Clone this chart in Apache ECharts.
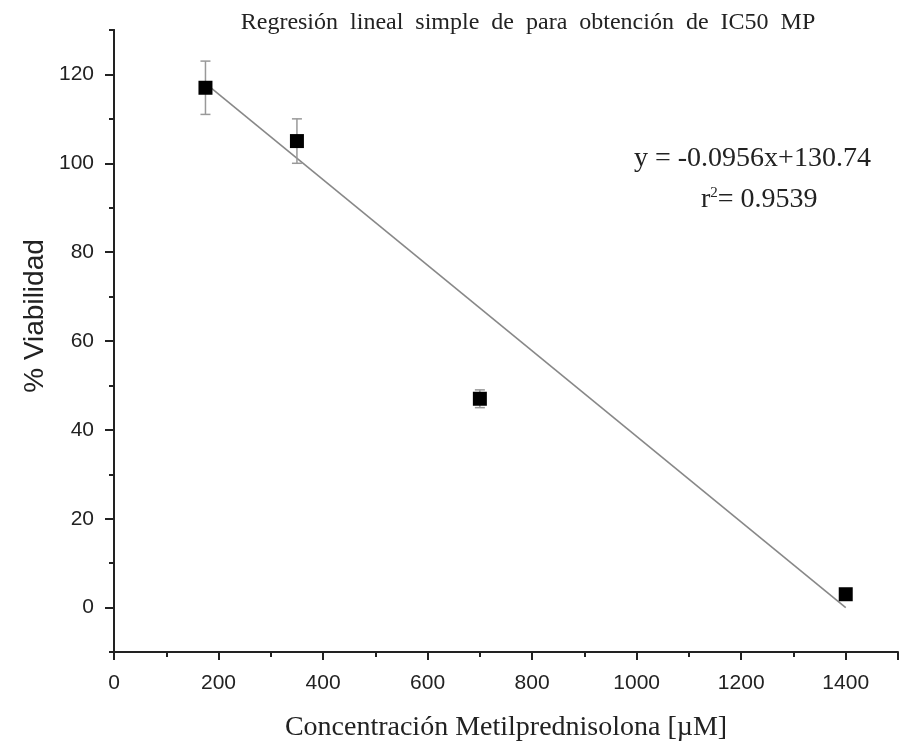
<!DOCTYPE html>
<html>
<head>
<meta charset="utf-8">
<script src="https://cdn.jsdelivr.net/npm/echarts@6/dist/echarts.min.js"></script>
<style>
  html, body { margin: 0; padding: 0; background: #fff; }
  #main { width: 902px; height: 748px; }
</style>
</head>
<body>
<div id="main"></div>
<script>
var myChart = echarts.init(document.getElementById('main'));

// datos
var concentraciones = [175, 350, 700, 1400];
var viabilidad = [117, 105, 47, 3];
var errores = [6, 5, 2, 0.8];
// recta de regresion (extremos)
var rectaX = [175, 1400];
var rectaY = [118, 0];
// marcas del eje y
var yMarcas = [0, 20, 40, 60, 80, 100, 120];
var yMenores = [-10, 10, 30, 50, 70, 90, 110, 130];

var serif = "'Liberation Serif', 'Times New Roman', serif";
var sans = "'Liberation Sans', Arial, sans-serif";

var puntos = concentraciones.map(function (c, i) { return [c, viabilidad[i]]; });
var barras = concentraciones.map(function (c, i) {
  return [c, viabilidad[i] - errores[i], viabilidad[i] + errores[i]];
});
var recta = rectaX.map(function (x, i) { return [x, rectaY[i]]; });

var ejeY = {
  type: 'value',
  min: -10,
  max: 130,
  position: 'left',
  axisLine: { onZero: false, lineStyle: { color: '#222', width: 2 } },
  splitLine: { show: false }
};

var option = {
  backgroundColor: '#fff',
  animation: false,
  title: {
    text: 'Regresión  lineal  simple  de  para  obtención  de  IC50  MP',
    left: 523,
    top: 6,
    textAlign: 'center',
    textStyle: { fontFamily: serif, fontSize: 24, fontWeight: 'normal', color: '#222' }
  },
  grid: { left: 114, right: 4, top: 30, bottom: 96, containLabel: false, outerBoundsMode: 'none' },
  xAxis: {
    type: 'value',
    min: 0,
    max: 1500,
    interval: 200,
    name: 'Concentración Metilprednisolona [µM]',
    nameLocation: 'middle',
    nameGap: 62,
    nameTextStyle: { fontFamily: serif, fontSize: 28, color: '#222' },
    axisLine: { onZero: false, lineStyle: { color: '#222', width: 2 } },
    axisTick: { show: true, length: 8, lineStyle: { color: '#222', width: 2 } },
    minorTick: { show: true, splitNumber: 2, length: 5, lineStyle: { color: '#222', width: 2 } },
    axisLabel: { fontFamily: sans, fontSize: 21, color: '#222', margin: 21,
      formatter: function (v) { return v <= 1400 ? v : ''; } },
    splitLine: { show: false }
  },
  yAxis: [
    echarts.util.merge({
      axisTick: { show: true, length: 9, customValues: yMarcas, lineStyle: { color: '#222', width: 2 } },
      axisLabel: { fontFamily: sans, fontSize: 21, color: '#222', margin: 20, customValues: yMarcas }
    }, ejeY),
    echarts.util.merge({
      axisTick: { show: true, length: 5, customValues: yMenores, lineStyle: { color: '#222', width: 2 } },
      axisLabel: { show: false }
    }, ejeY)
  ],
  graphic: [
    {
      type: 'text',
      left: 634,
      top: 145,
      style: { text: 'y = -0.0956x+130.74', font: '28px ' + serif, fill: '#222' }
    },
    {
      type: 'text',
      left: 701,
      top: 186,
      style: {
        text: 'r{sup|2}= 0.9539',
        font: '28px ' + serif,
        fill: '#222',
        rich: { sup: { fontSize: 15, fontFamily: serif, verticalAlign: 'top', padding: [0, 0, 12, 0] } }
      }
    },
    {
      type: 'text',
      x: 35,
      y: 316,
      rotation: Math.PI / 2,
      style: { text: '% Viabilidad', font: '28px ' + sans, fill: '#222', align: 'center', verticalAlign: 'middle' }
    }
  ],
  series: [
    {
      name: 'regresion',
      type: 'line',
      data: recta,
      symbol: 'none',
      lineStyle: { color: '#888', width: 1.6 },
      z: 2
    },
    {
      name: 'error',
      type: 'custom',
      data: barras,
      renderItem: function (params, api) {
        var x = api.value(0);
        var lo = api.coord([x, api.value(1)]);
        var hi = api.coord([x, api.value(2)]);
        var w = 5;
        var st = { stroke: '#999', lineWidth: 1.5 };
        return {
          type: 'group',
          children: [
            { type: 'line', shape: { x1: lo[0], y1: lo[1], x2: hi[0], y2: hi[1] }, style: st },
            { type: 'line', shape: { x1: lo[0] - w, y1: lo[1], x2: lo[0] + w, y2: lo[1] }, style: st },
            { type: 'line', shape: { x1: hi[0] - w, y1: hi[1], x2: hi[0] + w, y2: hi[1] }, style: st }
          ]
        };
      },
      z: 3
    },
    {
      name: 'viabilidad',
      type: 'scatter',
      data: puntos,
      symbol: 'rect',
      symbolSize: 14,
      itemStyle: { color: '#000', opacity: 1 },
      z: 4
    }
  ]
};

myChart.setOption(option);
</script>
</body>
</html>
